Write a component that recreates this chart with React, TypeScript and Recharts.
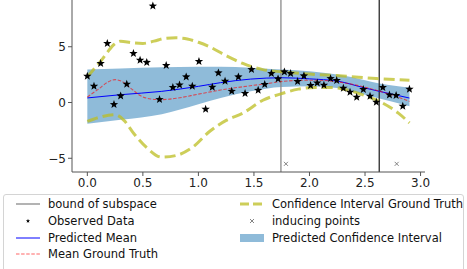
import { ComposedChart, Line, Area, Scatter, XAxis, YAxis, ReferenceLine } from 'recharts';

// observed data (stars)
const obsX = [0, 0.06, 0.12, 0.18, 0.24, 0.3, 0.355, 0.415, 0.475, 0.535, 0.59, 0.65, 0.71, 0.77, 0.83, 0.89, 0.945, 1.005, 1.065, 1.125, 1.18, 1.24, 1.3, 1.36, 1.42, 1.478, 1.538, 1.597, 1.657, 1.717, 1.774, 1.83, 1.893, 1.95, 2.01, 2.07, 2.13, 2.19, 2.245, 2.305, 2.365, 2.425, 2.485, 2.545, 2.602, 2.66, 2.72, 2.78, 2.84, 2.9];
const obsY = [2.36, 1.46, 3.5, 5.3, -0.18, 0.6, 1.64, 4.4, 3.8, 3.6, 8.65, 0.27, 3.32, 1.35, 1.58, 2.3, 1.46, 3.68, -0.6, 1.37, 2.66, 1.91, 1.01, 2.3, 0.81, 2.96, 1.1, 1.62, 2.6, 2.12, 2.75, 2.6, 1.89, 2.39, 1.53, 1.76, 1.55, 2.15, 1.98, 1.28, 0.93, 0.48, 1.17, 0.57, 0.03, 1.35, 0.68, 0.63, -0.33, 1.2];

// predicted mean + confidence band
const predX = [0, 0.3, 0.67, 1.0, 1.2, 1.47, 1.75, 2.0, 2.25, 2.5, 2.63, 2.9];
const predMean = [0.41, 0.7, 1.0, 1.45, 1.78, 2.1, 2.22, 2.12, 1.92, 1.3, 1.0, 0.4];
const predHi = [2.95, 3.05, 3.15, 3.2, 3.2, 3.12, 2.95, 2.8, 2.5, 2.0, 1.7, 1.35];
const predLo = [-1.9, -1.55, -1.05, -0.15, 0.4, 1.0, 1.4, 1.45, 1.3, 0.7, 0.36, -0.33];

// ground truth mean
const gtMeanX = [0, 0.1, 0.18, 0.25, 0.32, 0.4, 0.48, 0.57, 0.67, 0.8, 1.0, 1.2, 1.45, 1.6, 1.75, 1.9, 2.05, 2.2, 2.4, 2.6, 2.75, 2.9];
const gtMeanY = [0.5, 1.2, 1.8, 2.05, 1.85, 1.2, 0.6, 0.32, 0.26, 0.38, 0.75, 1.12, 1.48, 1.67, 1.88, 1.98, 2.0, 1.92, 1.6, 1.1, 0.65, 0.1];

// ground truth confidence interval
const gtHiX = [0, 0.06, 0.12, 0.18, 0.24, 0.3, 0.4, 0.5, 0.6, 0.7, 0.8, 0.9, 1.0, 1.1, 1.25, 1.4, 1.58, 1.75, 2.0, 2.3, 2.6, 2.9];
const gtHiY = [2.3, 3.0, 3.7, 4.5, 5.2, 5.5, 5.35, 5.3, 5.5, 5.75, 5.8, 5.7, 5.4, 5.0, 4.2, 3.5, 2.95, 2.75, 2.55, 2.38, 2.15, 2.0];
const gtLoX = [0, 0.12, 0.25, 0.33, 0.42, 0.54, 0.67, 0.8, 0.95, 1.1, 1.25, 1.4, 1.58, 1.75, 1.9, 2.05, 2.2, 2.35, 2.5, 2.65, 2.8, 2.9];
const gtLoY = [-1.7, -1.3, -1.1, -1.6, -2.8, -4.1, -4.9, -4.75, -4.0, -2.6, -1.6, -0.95, 0.2, 0.8, 1.2, 1.35, 1.35, 1.1, 0.62, 0.0, -0.95, -1.83];

const inducingX = [1.788, 2.785];
const inducingY = [-5.5, -5.5];
const bounds = [1.743, 2.628];

const xTicks = [0, 0.5, 1, 1.5, 2, 2.5, 3];
const yTicks = [-5, 0, 5];

const obs = obsX.map((x, i) => ({ x, y: obsY[i] }));
const pred = predX.map((x, i) => ({ x, y: predMean[i], range: [predLo[i], predHi[i]] }));
const gtMean = gtMeanX.map((x, i) => ({ x, y: gtMeanY[i] }));
const gtHi = gtHiX.map((x, i) => ({ x, y: gtHiY[i] }));
const gtLo = gtLoX.map((x, i) => ({ x, y: gtLoY[i] }));
const inducing = inducingX.map((x, i) => ({ x, y: inducingY[i] }));

const font = '"DejaVu Sans", sans-serif';

const starPath = (cx: number, cy: number, R: number) => {
    const r = R * 0.42;
    let d = '';
    for (let k = 0; k < 10; k++) {
        const rad = k % 2 === 0 ? R : r;
        const a = -Math.PI / 2 + (k * Math.PI) / 5;
        d += (k === 0 ? 'M' : 'L') + (cx + rad * Math.cos(a)).toFixed(2) + ',' + (cy + rad * Math.sin(a)).toFixed(2);
    }
    return d + 'Z';
};

const Star = (props: any) => <path d={starPath(props.cx, props.cy, 4.4)} fill="#000" />;
const Cross = (props: any) => {
    const { cx, cy } = props;
    const s = 2;
    return <path d={`M${cx - s},${cy - s}L${cx + s},${cy + s}M${cx - s},${cy + s}L${cx + s},${cy - s}`} stroke="#666" strokeWidth={0.8} />;
};

const fmtY = (v: number) => (v < 0 ? '\u2212' + Math.abs(v) : String(v));

const legendRow = (icon: any, label: string) => (
    <div style={{ display: 'flex', alignItems: 'center', height: 16.7, whiteSpace: 'nowrap' }}>
        <svg width={28} height={12} style={{ marginLeft: 12, marginRight: 4 }}>{icon}</svg>
        <span>{label}</span>
    </div>
);

export default function App() {
    return (
        <div style={{ position: 'absolute', left: 0, top: 0, width: 467, height: 269, background: '#fff', overflow: 'hidden', fontFamily: font }}>
            <ComposedChart width={467} height={269} margin={{ top: 0, right: 42, left: 32, bottom: 67 }}>
                <XAxis
                    type="number"
                    dataKey="x"
                    domain={[-0.138, 3.04]}
                    allowDataOverflow
                    ticks={xTicks}
                    tickFormatter={(v: number) => v.toFixed(1)}
                    height={30}
                    tickSize={4}
                    tickMargin={2}
                    stroke="#555"
                    tick={{ fill: '#222', fontSize: 12, fontFamily: font }}
                />
                <YAxis
                    type="number"
                    dataKey="y"
                    domain={[-6.23, 9.19]}
                    allowDataOverflow
                    ticks={yTicks}
                    tickFormatter={fmtY}
                    width={40}
                    tickSize={4}
                    tickMargin={2}
                    stroke="#555"
                    tick={{ fill: '#222', fontSize: 12, fontFamily: font }}
                />
                <YAxis yAxisId="right" orientation="right" width={0} domain={[-6.23, 9.19]} tick={false} stroke="#777" />
                <Area data={pred} dataKey="range" type="monotone" stroke="none" fill="#1f77b4" fillOpacity={0.5} isAnimationActive={false} />
                {bounds.map((b, i) => (
                    <ReferenceLine key={i} x={b} stroke={i === 0 ? '#8a8a8a' : '#2a2a2a'} strokeWidth={1.3} />
                ))}
                <Line data={pred} dataKey="y" type="monotone" stroke="#0000ff" strokeWidth={1} dot={false} isAnimationActive={false} />
                <Line data={gtMean} dataKey="y" type="monotone" stroke="#ff0000" strokeOpacity={0.6} strokeWidth={1.1} strokeDasharray="3.5 1.6" dot={false} isAnimationActive={false} />
                <Line data={gtHi} dataKey="y" type="monotone" stroke="#bcbd22" strokeOpacity={0.75} strokeWidth={3} strokeDasharray="11 5" dot={false} isAnimationActive={false} />
                <Line data={gtLo} dataKey="y" type="monotone" stroke="#bcbd22" strokeOpacity={0.75} strokeWidth={3} strokeDasharray="11 5" dot={false} isAnimationActive={false} />
                <Scatter data={obs} dataKey="y" shape={Star} isAnimationActive={false} />
                <Scatter data={inducing} dataKey="y" shape={Cross} isAnimationActive={false} />
            </ComposedChart>
            <div
                style={{
                    position: 'absolute',
                    left: 3,
                    top: 194,
                    width: 459,
                    height: 90,
                    border: '1px solid #d4d4d4',
                    borderRadius: 3,
                    fontSize: 11.5,
                    color: '#111',
                    display: 'flex',
                    paddingTop: 1,
                }}
            >
                <div style={{ width: 224 }}>
                    {legendRow(<line x1={0} x2={24} y1={6} y2={6} stroke="#8a8a8a" strokeWidth={1.3} />, 'bound of subspace')}
                    {legendRow(<path d={starPath(12, 6, 2.2)} fill="#000" />, 'Observed Data')}
                    {legendRow(<line x1={0} x2={24} y1={6} y2={6} stroke="#0000ff" strokeWidth={1} />, 'Predicted Mean')}
                    {legendRow(<line x1={0} x2={24} y1={6} y2={6} stroke="#ff0000" strokeOpacity={0.6} strokeWidth={1.1} strokeDasharray="3.5 1.6" />, 'Mean Ground Truth')}
                </div>
                <div>
                    {legendRow(<line x1={0} x2={24} y1={6} y2={6} stroke="#bcbd22" strokeOpacity={0.75} strokeWidth={3} strokeDasharray="9 4" />, 'Confidence Interval Ground Truth')}
                    {legendRow(<path d="M10,4L14,8M10,8L14,4" stroke="#666" strokeWidth={0.8} />, 'inducing points')}
                    {legendRow(<rect x={0} y={2} width={24} height={8} fill="#1f77b4" fillOpacity={0.5} />, 'Predicted Confidence Interval')}
                </div>
            </div>
        </div>
    );
}
